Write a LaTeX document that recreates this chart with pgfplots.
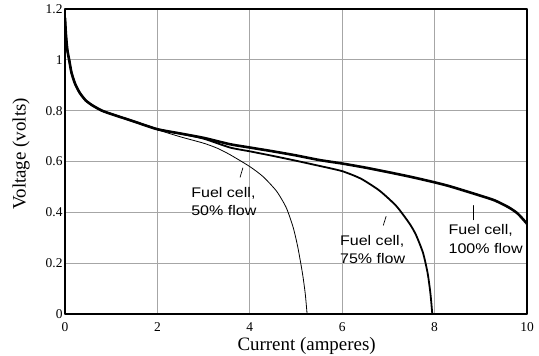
\documentclass[border=0pt]{standalone}
\usepackage{fontspec}
\setmainfont{Liberation Serif}
\newfontfamily\annfont[FakeStretch=1.15]{Liberation Sans}
\usepackage{pgfplots}
\pgfplotsset{compat=1.18}
\begin{document}
\begin{tikzpicture}
\begin{axis}[name=ax, scale only axis, width=462bp, height=305bp,
  xmin=0, xmax=10, ymin=0, ymax=1.2,
  xtick={0,2,4,6,8,10}, ytick={0,0.2,0.4,0.6,0.8,1,1.2},
  grid=major, major grid style={color=black!35, line width=0.8bp},
  axis line style={line width=1.2bp},
  major tick length=0pt,
  /pgf/number format/assume math mode=true,
  tick label style={font=\fontsize{13.5}{13.5}\selectfont},
  xticklabel style={yshift=-5bp},
  yticklabel style={xshift=1bp},
  xlabel={Current (amperes)}, ylabel={Voltage (volts)},
  label style={font=\fontsize{19}{19}\selectfont},
  x label style={at={(axis description cs:0.523,-0.105)}, anchor=center},
  y label style={at={(axis description cs:-0.095,0.525)}, anchor=center},
  line join=round, line cap=round,
]
% 100% flow
\addplot[black, line width=2.6bp, smooth, tension=0.4] coordinates {
(0,1.165) (0.02,1.10) (0.05,1.04) (0.09,1.0) (0.14,0.95) (0.22,0.905) (0.32,0.87) (0.45,0.84) (0.6,0.82) (0.8,0.8) (1.0,0.787) (1.5,0.757) (2.0,0.727) (2.5,0.71)
(3.0,0.693) (3.57,0.668) (4.0,0.655) (4.5,0.64) (5.0,0.624) (5.5,0.606) (6.0,0.592) (6.5,0.576) (7.0,0.558) (7.5,0.539) (8.0,0.518) (8.32,0.503) (8.7,0.482) (9.0,0.465) (9.3,0.447) (9.6,0.42) (9.8,0.395) (10,0.355)
};
% 75% flow
\addplot[black, line width=1.8bp, smooth, tension=0.4] coordinates {
(0,1.165) (0.02,1.10) (0.05,1.04) (0.09,1.0) (0.14,0.95) (0.22,0.905) (0.32,0.87) (0.45,0.84) (0.6,0.82) (0.8,0.8) (1.0,0.787) (1.5,0.757) (2.0,0.727) (2.5,0.71)
(3.0,0.69) (3.57,0.655) (4.0,0.64) (4.5,0.622) (5.0,0.603) (5.5,0.583) (5.75,0.573) (6.0,0.562) (6.25,0.545) (6.45,0.528) (6.81,0.485) (7.17,0.425) (7.46,0.355) (7.6,0.31) (7.75,0.24) (7.85,0.16) (7.91,0.08) (7.95,0)
};
% 50% flow
\addplot[black, line width=0.8bp, smooth, tension=0.4] coordinates {
(0,1.165) (0.02,1.10) (0.05,1.04) (0.09,1.0) (0.14,0.95) (0.22,0.905) (0.32,0.87) (0.45,0.84) (0.6,0.82) (0.8,0.8) (1.0,0.787) (1.5,0.757) (2.0,0.725)
(2.5,0.697) (3.0,0.672) (3.3,0.652) (3.57,0.627) (4.0,0.58) (4.29,0.54) (4.58,0.483) (4.79,0.418) (4.94,0.34) (5.04,0.262) (5.14,0.16) (5.2,0.08) (5.24,0)
};
\node[anchor=north west, inner sep=0, align=left, font=\annfont\fontsize{14}{18.3}\selectfont] at (axis cs:2.73,0.5) {Fuel cell,\\50\% flow};
\node[anchor=north west, inner sep=0, align=left, font=\annfont\fontsize{14}{18.3}\selectfont] at (axis cs:5.95,0.31) {Fuel cell,\\75\% flow};
\node[anchor=north west, inner sep=0, align=left, font=\annfont\fontsize{14}{18.3}\selectfont] at (axis cs:8.3,0.352) {Fuel cell,\\100\% flow};
\draw[line width=0.7bp] (axis cs:3.79,0.538) -- (axis cs:3.85,0.575);
\draw[line width=0.7bp] (axis cs:6.89,0.349) -- (axis cs:6.95,0.384);
\draw[line width=0.7bp] (axis cs:8.84,0.371) -- (axis cs:8.84,0.427);
\end{axis}
\pgfresetboundingbox
\path ([shift={(-65bp,-42bp)}]ax.south west) rectangle ([shift={(12bp,9bp)}]ax.north east);
\end{tikzpicture}
\end{document}
